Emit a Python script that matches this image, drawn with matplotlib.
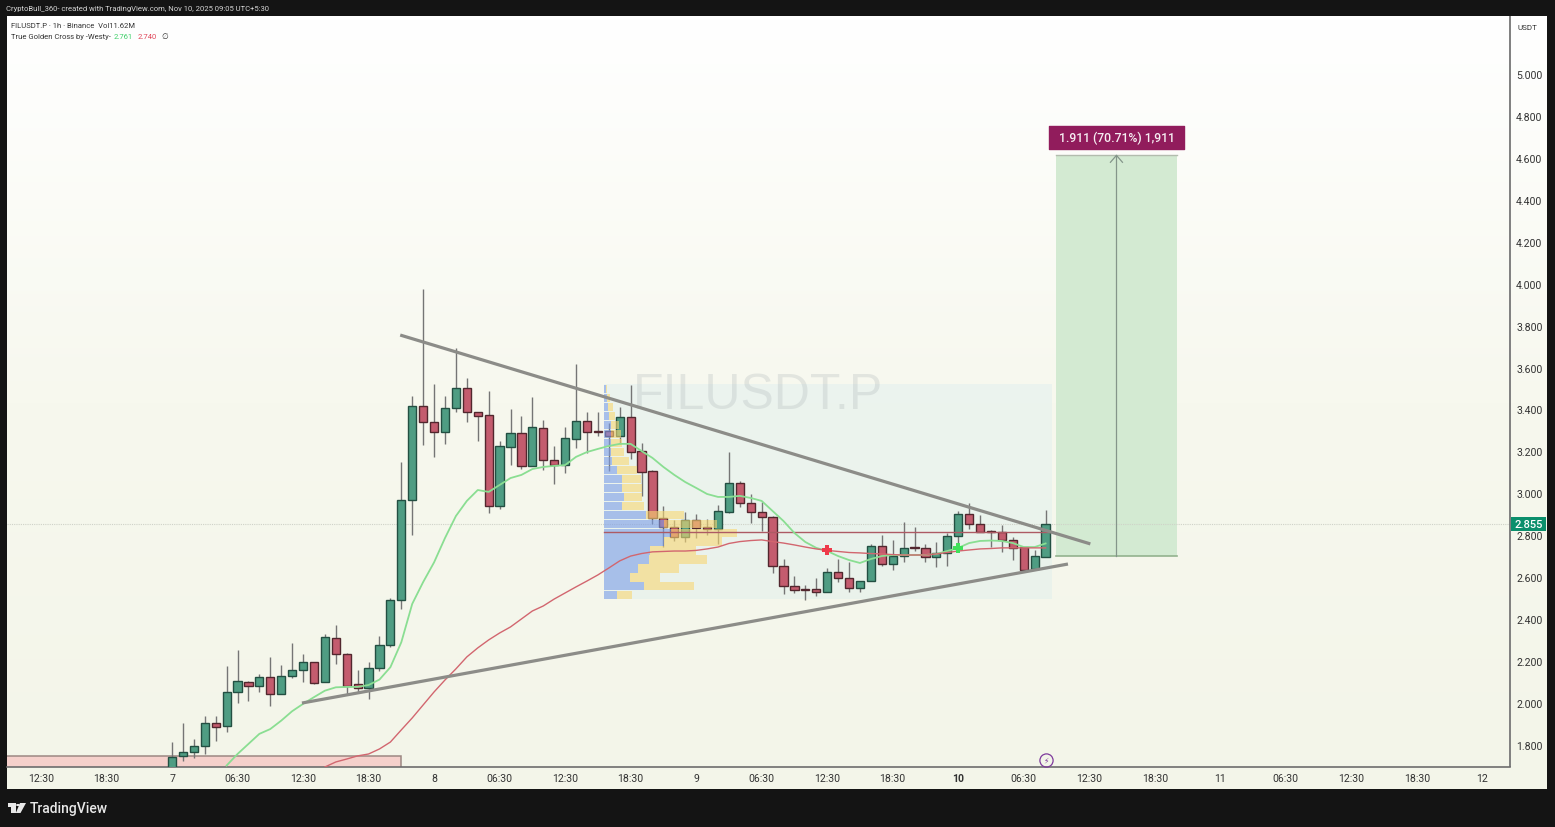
import numpy as np
import matplotlib
matplotlib.use("Agg")
import matplotlib.pyplot as plt
from matplotlib.patches import Rectangle, Polygon, Circle

# candles, hourly, bar 0 is the "7" tick
opens = [1.660, 1.746, 1.768, 1.794, 1.905, 1.889, 2.052, 2.099, 2.082, 2.124,
         2.045, 2.131, 2.159, 2.196, 2.101, 2.310, 2.233, 2.090, 2.073, 2.166,
         2.275, 2.493, 2.967, 3.417, 3.340, 3.291, 3.406, 3.503, 3.388, 3.372,
         2.941, 3.222, 3.289, 3.132, 3.313, 3.161, 3.137, 3.261, 3.344, 3.298,
         3.299, 3.274, 3.364, 3.201, 3.107, 2.883, 2.841, 2.794, 2.873, 2.840,
         2.830, 2.913, 3.051, 2.955, 2.913, 2.887, 2.655, 2.558, 2.544, 2.544,
         2.531, 2.625, 2.598, 2.550, 2.582, 2.751, 2.662, 2.703, 2.743, 2.738,
         2.697, 2.716, 2.798, 2.900, 2.856, 2.821, 2.817, 2.778, 2.743, 2.637,
         2.698]
highs = [1.816, 1.905, 1.829, 1.937, 1.937, 2.178, 2.255, 2.107, 2.139, 2.218,
         2.182, 2.287, 2.234, 2.196, 2.330, 2.372, 2.239, 2.159, 2.197, 2.319,
         2.503, 3.151, 3.466, 3.975, 3.520, 3.464, 3.692, 3.549, 3.388, 3.490,
         3.251, 3.401, 3.369, 3.461, 3.350, 3.227, 3.318, 3.617, 3.387, 3.390,
         3.336, 3.411, 3.517, 3.240, 3.112, 2.938, 2.873, 2.910, 2.903, 2.878,
         2.945, 3.199, 3.061, 2.997, 2.960, 2.892, 2.687, 2.608, 2.563, 2.595,
         2.643, 2.687, 2.671, 2.582, 2.760, 2.802, 2.778, 2.865, 2.838, 2.760,
         2.767, 2.810, 2.915, 2.954, 2.898, 2.825, 2.849, 2.791, 2.743, 2.732,
         2.922]
lows = [1.620, 1.725, 1.740, 1.757, 1.821, 1.861, 2.002, 2.011, 2.054, 1.988,
        2.045, 2.118, 2.102, 2.090, 2.101, 2.185, 2.045, 2.048, 2.020, 2.155,
        2.266, 2.449, 2.803, 3.232, 3.172, 3.236, 3.387, 3.342, 3.248, 2.905,
        2.926, 3.135, 3.116, 3.132, 3.112, 3.045, 3.096, 3.215, 3.191, 3.275,
        3.108, 3.236, 3.164, 2.989, 2.854, 2.744, 2.772, 2.767, 2.787, 2.803,
        2.759, 2.905, 2.934, 2.859, 2.822, 2.620, 2.520, 2.524, 2.492, 2.512,
        2.531, 2.576, 2.528, 2.531, 2.582, 2.652, 2.636, 2.671, 2.727, 2.671,
        2.650, 2.655, 2.751, 2.830, 2.817, 2.743, 2.722, 2.682, 2.635, 2.637,
        2.698]
closes = [1.744, 1.768, 1.794, 1.905, 1.888, 2.052, 2.104, 2.082, 2.124, 2.045,
          2.131, 2.159, 2.196, 2.097, 2.314, 2.234, 2.083, 2.073, 2.166, 2.277,
          2.493, 2.967, 3.418, 3.339, 3.291, 3.406, 3.503, 3.387, 3.369, 2.941,
          3.225, 3.289, 3.132, 3.317, 3.159, 3.137, 3.263, 3.344, 3.291, 3.293,
          3.274, 3.364, 3.199, 3.103, 2.881, 2.841, 2.794, 2.873, 2.836, 2.829,
          2.915, 3.050, 2.953, 2.913, 2.887, 2.655, 2.557, 2.541, 2.541, 2.530,
          2.625, 2.597, 2.550, 2.582, 2.751, 2.662, 2.703, 2.741, 2.738, 2.697,
          2.716, 2.798, 2.900, 2.856, 2.817, 2.817, 2.778, 2.741, 2.635, 2.700,
          2.853]

# true golden cross moving averages, first bars are off the bottom of the pane
fast_start = 5
fast_ma = [1.702, 1.757, 1.805, 1.853, 1.876, 1.916, 1.961, 1.996, 2.028, 2.059,
           2.075, 2.077, 2.077, 2.086, 2.112, 2.171, 2.290, 2.473, 2.577, 2.671,
           2.787, 2.892, 2.964, 3.016, 3.007, 3.040, 3.073, 3.088, 3.116, 3.126,
           3.131, 3.135, 3.174, 3.197, 3.212, 3.226, 3.236, 3.236, 3.202, 3.169,
           3.126, 3.088, 3.054, 3.026, 2.997, 2.983, 2.983, 2.988, 2.978, 2.964,
           2.916, 2.868, 2.811, 2.768, 2.740, 2.725, 2.701, 2.682, 2.668, 2.687,
           2.701, 2.706, 2.706, 2.706, 2.706, 2.711, 2.725, 2.740, 2.763, 2.773,
           2.775, 2.773, 2.763, 2.744, 2.744, 2.761]
slow_start = 14
slow_ma = [1.695, 1.719, 1.733, 1.748, 1.757, 1.781, 1.814, 1.872, 1.929, 1.991,
           2.053, 2.110, 2.163, 2.220, 2.263, 2.301, 2.334, 2.363, 2.401, 2.439,
           2.463, 2.496, 2.525, 2.554, 2.582, 2.611, 2.644, 2.678, 2.701, 2.713,
           2.721, 2.723, 2.725, 2.725, 2.728, 2.735, 2.744, 2.761, 2.770, 2.775,
           2.778, 2.770, 2.763, 2.754, 2.744, 2.735, 2.728, 2.723, 2.718, 2.716,
           2.713, 2.711, 2.708, 2.706, 2.706, 2.706, 2.711, 2.718, 2.725, 2.730,
           2.735, 2.737, 2.740, 2.740, 2.740, 2.740, 2.740]

# volume profile, 24 rows from the bottom
profile_low = 2.494
profile_high = 3.522
profile_poc = 2.818
profile_up = [40, 120, 78, 102, 135, 138, 180, 200, 180, 125, 55, 60,
              55, 55, 40, 25, 20, 20, 20, 20, 14, 12, 10, 6]
profile_down = [45, 150, 90, 123, 175, 137, 175, 200, 160, 115, 65, 55,
                60, 55, 60, 50, 40, 35, 30, 25, 20, 15, 8, 3]

price_ticks = [1.8, 2.0, 2.2, 2.4, 2.6, 2.8, 3.0, 3.2, 3.4, 3.6, 3.8, 4.0, 4.2, 4.4, 4.6, 4.8, 5.0]
time_ticks = [-12, -6, 0, 6, 12, 18, 24, 30, 36, 42, 48, 54, 60, 66, 72, 78, 84, 90, 96, 102, 108, 114, 120]
time_labels = ["12:30", "18:30", "7", "06:30", "12:30", "18:30", "8", "06:30", "12:30", "18:30", "9",
               "06:30", "12:30", "18:30", "10", "06:30", "12:30", "18:30", "11", "06:30", "12:30", "18:30", "12"]

upper_x, upper_y = [20.9, 84.1], [3.755, 2.759]
lower_x, lower_y = [11.9, 82.05], [2.000, 2.663]
target_x0, target_x1, target_low, target_high = 80.95, 92.03, 2.701, 4.612
last_price = 2.855

W, H = 1555, 828
GREEN, GREEN_EDGE = "#4f9d83", "#234f42"
RED, RED_EDGE = "#c45c6e", "#52272e"
WICK = "#757575"

plt.rcParams["font.family"] = ["Roboto", "DejaVu Sans"]
fig = plt.figure(figsize=(W / 100, H / 100), dpi=100, facecolor="#141414")


def px(x, y):
    return x / W, 1 - y / H


def label(x, y, s, size=7, color="#333333", **kw):
    fx, fy = px(x, y)
    return fig.text(fx, fy, s, fontsize=size, color=color, va="center", **kw)


# pale background runs on under the price and time scales
bg = fig.add_axes([7 / W, 1 - 790 / H, 1540 / W, 773 / H], zorder=-1)
gradient = np.linspace(0, 1, 256).reshape(-1, 1)
cmap = matplotlib.colors.LinearSegmentedColormap.from_list("bg", ["#f3f5e9", "#f7f8ee", "#ffffff"])
bg.imshow(gradient, aspect="auto", cmap=cmap, origin="lower")
bg.axis("off")

ax = fig.add_axes([7 / W, 1 - 768 / H, 1503 / W, 751 / H])
ax.patch.set_visible(False)

bars = np.arange(len(opens))
pane_left, pane_right = 39.56, 80.6
row_h = (profile_high - profile_low) / len(profile_up)
rows = profile_low + row_h * np.arange(len(profile_up))
vol_to_bars = 1 / 3 / 10.92

# value area box goes under the candles
ax.add_patch(Rectangle((pane_left, profile_low), pane_right - pane_left, profile_high - profile_low,
                       facecolor="#d5ebee", alpha=0.33, edgecolor="none", zorder=1))

# old demand box and target box
ax.add_patch(Rectangle((-16, 1.5), 37, 0.248, facecolor="#f5d0cb", edgecolor="#9c8882", linewidth=1.1, zorder=1.5))
ax.add_patch(Rectangle((target_x0, target_low), target_x1 - target_x0, target_high - target_low,
                       facecolor="#d3ead2", edgecolor="none", zorder=1.5))
ax.plot([target_x0, target_x1], [target_high, target_high], color="#b3bcae", linewidth=1, zorder=2)
ax.plot([target_x0, target_x1], [target_low, target_low], color="#93b28e", linewidth=1.2, zorder=2)

ax.axhline(last_price, color="#cfd2c8", linewidth=0.8, linestyle=(0, (1, 1)), zorder=2)

for i in bars:
    up = closes[i] >= opens[i]
    ax.vlines(i, lows[i], highs[i], color=WICK, linewidth=1.0, zorder=3)
    ax.bar(i, abs(closes[i] - opens[i]), bottom=min(opens[i], closes[i]), width=0.75,
           color=GREEN if up else RED, edgecolor=GREEN_EDGE if up else RED_EDGE,
           linewidth=1.0, zorder=3.5)

# the profile sits over the candles, so they show through it
ax.barh(rows, np.array(profile_up) * vol_to_bars, height=row_h * 0.9, left=pane_left, align="edge",
        color="#7b9de8", alpha=0.6, edgecolor="none", zorder=4)
ax.barh(rows, np.array(profile_down) * vol_to_bars, height=row_h * 0.9,
        left=pane_left + np.array(profile_up) * vol_to_bars, align="edge",
        color="#f8d773", alpha=0.6, edgecolor="none", zorder=4)
ax.plot([pane_left, pane_right], [profile_poc, profile_poc], color="#ad5a64", linewidth=1.0, zorder=4.5)

ax.plot(np.arange(len(fast_ma)) + fast_start, fast_ma, color="#8ade92", linewidth=1.3, zorder=5)
ax.plot(np.arange(len(slow_ma)) + slow_start, slow_ma, color="#d2666f", linewidth=1.0, zorder=5)
ax.plot([60], [2.731], marker="P", markersize=7.5, color="#ee3a4a", markeredgewidth=0, zorder=6)
ax.plot([72], [2.738], marker="P", markersize=7.5, color="#3fe05a", markeredgewidth=0, zorder=6)

ax.plot(upper_x, upper_y, color="#8c8c88", linewidth=2.3, solid_capstyle="butt", zorder=7)
ax.plot(lower_x, lower_y, color="#8c8c88", linewidth=2.3, solid_capstyle="butt", zorder=7)

ax.text(53.7, 3.47, "FILUSDT.P", fontsize=36, color="#9aa4a8", alpha=0.22, ha="center", va="center",
        family="Liberation Sans", zorder=2.5)

# long position arrow and its label
mid = (target_x0 + target_x1) / 2
ax.plot([mid, mid], [target_low, target_high], color="#84958a", linewidth=0.9, zorder=6)
ax.plot([mid - 0.55, mid, mid + 0.55], [target_high - 0.033, target_high, target_high - 0.033],
        color="#84958a", linewidth=0.9, zorder=6)
ax.add_patch(Rectangle((80.35, 4.64), 12.3, 0.112, facecolor="#911c5c", edgecolor="#911c5c",
                       linewidth=1, joinstyle="round", zorder=7.5))
ax.text(86.5, 4.696, "1.911 (70.71%) 1,911", fontsize=8.8, color="#f6eef2", ha="center", va="center",
        fontweight="medium", zorder=8)

# news flag near the bottom
ax.plot([80], [1.73], marker="o", markersize=9.5, markerfacecolor="none", markeredgecolor="#7e3a9c",
        markeredgewidth=0.9, zorder=6)
ax.text(80, 1.73, "\u26a1", fontsize=5.5, color="#7e3a9c", ha="center", va="center", zorder=6,
        family="DejaVu Sans")

ax.set_xlim(-15.11, 122.53)
ax.set_ylim(1.695, 5.2766)
ax.yaxis.tick_right()
ax.set_yticks(price_ticks)
ax.set_yticklabels([f"{p:.3f}" for p in price_ticks])
ax.set_xticks(time_ticks)
ax.set_xticklabels(time_labels)
ax.tick_params(axis="both", length=0, labelsize=7.6, colors="#333333")
ax.tick_params(axis="y", pad=4.5)
ax.tick_params(axis="x", pad=4.5)
ax.get_xticklabels()[time_labels.index("10")].set_fontweight("bold")
for side in ["top", "left"]:
    ax.spines[side].set_visible(False)
ax.spines["right"].set_color("#7f7f7f")
ax.spines["right"].set_linewidth(1.4)
ax.spines["right"].set_capstyle("butt")
ax.spines["bottom"].set_color("#6d6d6d")
ax.spines["bottom"].set_linewidth(1.2)

# last price tag
fig.patches.append(Rectangle(px(1511, 532), 35 / W, 14 / H, transform=fig.transFigure,
                             facecolor="#0b8f6c", edgecolor="none", zorder=5))
label(1528.5, 525, "2.855", size=8, color="white", ha="center", zorder=6, fontweight="medium")
label(1527, 28, "USDT", size=5.8, ha="center")

# header text
label(6, 9, "CryptoBull_360- created with TradingView.com, Nov 10, 2025 09:05 UTC+5:30", size=5.5, color="#d6d6d6")
label(11, 26, "FILUSDT.P \u00b7 1h \u00b7 Binance  Vol11.62M", size=5.5)
label(11, 37, "True Golden Cross by -Westy-", size=5.5)
label(114, 37, "2.761", size=5.5, color="#3fd06a")
label(138, 37, "2.740", size=5.5, color="#e0465a")
label(161, 37, "\u2205", size=5.5)

# TradingView logo
for pts in ([(7.5, 804), (15.5, 804), (15.5, 814), (11, 814), (11, 808), (7.5, 808)],
            [(20, 804), (26, 804), (20.5, 814), (15.8, 814)]):
    fig.patches.append(Polygon([px(a, b) for a, b in pts], transform=fig.transFigure,
                               facecolor="#e8e8e8", edgecolor="none"))
fig.patches.append(Circle(px(18, 806), 2 / W, transform=fig.transFigure, facecolor="#e8e8e8", edgecolor="none"))
label(30, 809.5, "TradingView", size=10, color="#e8e8e8", fontweight="medium")

fig.savefig("out.png", dpi=100, facecolor=fig.get_facecolor())
